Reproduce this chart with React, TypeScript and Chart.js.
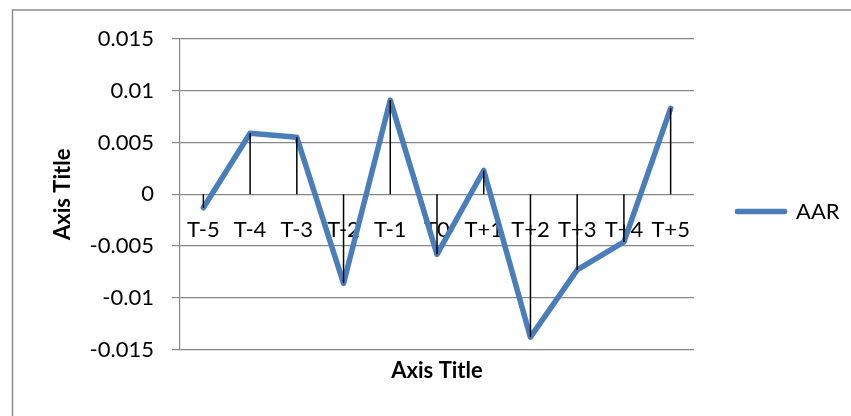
import React, { useEffect, useRef } from 'react';
import { Chart, registerables } from 'chart.js';

Chart.register(...registerables);

const categories = ['T-5', 'T-4', 'T-3', 'T-2', 'T-1', 'T0', 'T+1', 'T+2', 'T+3', 'T+4', 'T+5'];
const aarValues = [-0.0013, 0.0059, 0.0055, -0.0086, 0.0091, -0.0058, 0.0023, -0.0138, -0.0073, -0.0046, 0.0083];
const seriesName = 'AAR';
const yTickValues = [0.015, 0.01, 0.005, 0, -0.005, -0.01, -0.015];
const yTickLabels = ['0.015', '0.01', '0.005', '0', '-0.005', '-0.01', '-0.015'];
const xAxisTitle = 'Axis Title';
const yAxisTitle = 'Axis Title';

const BLUE = '#4A7EBB';
const GRID = '#868686';
const FONT = 'Lato, "Open Sans", sans-serif';
const W = 851;
const H = 416;

const framePlugin = {
  id: 'frame',
  beforeDraw(chart: any) {
    const ctx = chart.ctx;
    ctx.save();
    ctx.strokeStyle = '#8c8c8c';
    ctx.lineWidth = 1.5;
    ctx.beginPath();
    ctx.moveTo(12.5, H);
    ctx.lineTo(12.5, 10);
    ctx.lineTo(W, 10);
    ctx.stroke();
    ctx.restore();
  },
};

const dropLinesPlugin = {
  id: 'dropLines',
  afterDatasetsDraw(chart: any) {
    const ctx = chart.ctx;
    const meta = chart.getDatasetMeta(0);
    const y0 = chart.scales.y.getPixelForValue(0);
    ctx.save();
    ctx.strokeStyle = '#000000';
    ctx.lineWidth = 1.5;
    meta.data.forEach((pt: any) => {
      ctx.beginPath();
      ctx.moveTo(pt.x, y0);
      ctx.lineTo(pt.x, pt.y);
      ctx.stroke();
    });
    ctx.restore();
  },
};

const legendFitPlugin = {
  id: 'legendFit',
  beforeLayout(chart: any) {
    const lg = chart.legend;
    if (lg && !lg.__patched) {
      const orig = lg.fit.bind(lg);
      lg.fit = () => {
        orig();
        lg.width = 157;
      };
      lg.__patched = true;
    }
  },
};

export default function App() {
  const ref = useRef<HTMLCanvasElement | null>(null);

  useEffect(() => {
    if (!ref.current) return;
    const chart = new Chart(ref.current, {
      type: 'line',
      data: {
        labels: categories,
        datasets: [
          {
            label: seriesName,
            data: aarValues,
            borderColor: BLUE,
            backgroundColor: BLUE,
            borderWidth: 5.5,
            borderJoinStyle: 'round',
            borderCapStyle: 'round',
            pointRadius: 0,
            pointHoverRadius: 0,
            tension: 0,
            fill: false,
          },
        ],
      },
      options: {
        responsive: false,
        animation: false,
        devicePixelRatio: 1,
        layout: { padding: { left: 40, top: 39, right: 0, bottom: 32 } },
        plugins: {
          tooltip: { enabled: false },
          legend: {
            position: 'right',
            labels: {
              boxWidth: 48,
              boxHeight: 1,
              padding: 43,
              color: '#000',
              font: { family: FONT, size: 22 },
              generateLabels: (c: any) =>
                Chart.defaults.plugins.legend.labels.generateLabels(c).map((it: any) => ({
                  ...it,
                  fillStyle: BLUE,
                  strokeStyle: BLUE,
                  lineWidth: 4.5,
                  lineJoin: 'round',
                  lineCap: 'round',
                })),
            },
          },
        },
        scales: {
          x: {
            type: 'category',
            offset: true,
            grid: { display: false, drawTicks: false },
            border: { display: false },
            ticks: { display: false },
            title: {
              display: true,
              text: xAxisTitle,
              color: '#000',
              font: { family: FONT, size: 22, weight: 'bold' },
              padding: { top: 8, bottom: 0 },
            },
          },
          xCat: {
            type: 'category',
            axis: 'x',
            position: { y: 0 },
            offset: true,
            grid: { display: false, drawTicks: false },
            border: { display: false },
            ticks: {
              padding: 22,
              color: '#000',
              autoSkip: false,
              maxRotation: 0,
              minRotation: 0,
              font: { family: FONT, size: 22 },
            },
          },
          y: {
            min: -0.015,
            max: 0.015,
            afterBuildTicks: (s: any) => {
              s.ticks = yTickValues.map((v) => ({ value: v }));
            },
            afterFit: (s: any) => {
              s.width = 140;
            },
            ticks: {
              padding: 18,
              color: '#000',
              font: { family: FONT, size: 22 },
              callback: (v: any) => {
                const i = yTickValues.findIndex((t) => Math.abs(t - Number(v)) < 1e-9);
                return i >= 0 ? yTickLabels[i] : '';
              },
            },
            grid: { color: GRID, lineWidth: 1.2, tickLength: 8, drawTicks: true },
            border: { display: true, color: GRID, width: 1.2 },
            title: {
              display: true,
              text: yAxisTitle,
              color: '#000',
              font: { family: FONT, size: 22, weight: 'bold' },
              padding: { top: 10, bottom: 0 },
            },
          },
        },
      },
      plugins: [framePlugin, dropLinesPlugin, legendFitPlugin],
    } as any);
    return () => chart.destroy();
  }, []);

  return (
    <div style={{ position: 'fixed', left: 0, top: 0, width: W, height: H, overflow: 'hidden', background: '#fff' }}>
      <canvas ref={ref} width={W} height={H} style={{ display: 'block', width: W, height: H }} />
    </div>
  );
}
